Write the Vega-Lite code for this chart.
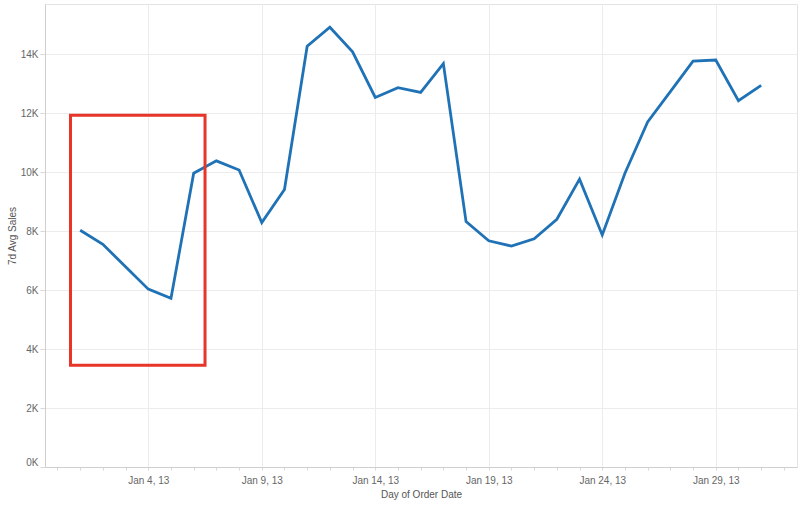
{
  "$schema": "https://vega.github.io/schema/vega-lite/v6.json",
  "width": 752,
  "height": 463,
  "autosize": "none",
  "padding": {"left": 45, "top": 4, "right": 3, "bottom": 39},
  "background": "white",
  "config": {
    "font": "Liberation Sans",
    "view": {"stroke": "#e3e3e3", "strokeWidth": 1},
    "axis": {
      "labelFont": "Liberation Sans",
      "labelFontSize": 10,
      "labelColor": "#666666",
      "titleFont": "Liberation Sans",
      "titleFontSize": 10,
      "titleFontWeight": "normal",
      "titleColor": "#555555",
      "domainColor": "#cfcfcf",
      "tickColor": "#d9d9d9",
      "gridColor": "#ececec",
      "gridWidth": 1
    }
  },
  "datasets": {
    "sales": [
      {"date": "2013-01-01", "avg_sales": 8030},
      {"date": "2013-01-02", "avg_sales": 7550},
      {"date": "2013-01-03", "avg_sales": 6790},
      {"date": "2013-01-04", "avg_sales": 6030},
      {"date": "2013-01-05", "avg_sales": 5720},
      {"date": "2013-01-06", "avg_sales": 9960},
      {"date": "2013-01-07", "avg_sales": 10380},
      {"date": "2013-01-08", "avg_sales": 10070},
      {"date": "2013-01-09", "avg_sales": 8290},
      {"date": "2013-01-10", "avg_sales": 9410},
      {"date": "2013-01-11", "avg_sales": 14270},
      {"date": "2013-01-12", "avg_sales": 14910},
      {"date": "2013-01-13", "avg_sales": 14080},
      {"date": "2013-01-14", "avg_sales": 12530},
      {"date": "2013-01-15", "avg_sales": 12860},
      {"date": "2013-01-16", "avg_sales": 12700},
      {"date": "2013-01-17", "avg_sales": 13680},
      {"date": "2013-01-18", "avg_sales": 8320},
      {"date": "2013-01-19", "avg_sales": 7670},
      {"date": "2013-01-20", "avg_sales": 7490},
      {"date": "2013-01-21", "avg_sales": 7740},
      {"date": "2013-01-22", "avg_sales": 8400},
      {"date": "2013-01-23", "avg_sales": 9760},
      {"date": "2013-01-24", "avg_sales": 7870},
      {"date": "2013-01-25", "avg_sales": 9960},
      {"date": "2013-01-26", "avg_sales": 11700},
      {"date": "2013-01-27", "avg_sales": 12730},
      {"date": "2013-01-28", "avg_sales": 13760},
      {"date": "2013-01-29", "avg_sales": 13800},
      {"date": "2013-01-30", "avg_sales": 12420},
      {"date": "2013-01-31", "avg_sales": 12940}
    ],
    "highlight": [
      {"start": "2012-12-31T13:45:00Z", "end": "2013-01-06T12:00:00Z", "low": 3450, "high": 11930}
    ]
  },
  "layer": [
    {
      "data": {"name": "sales"},
      "mark": {"type": "line", "color": "#1f72b5", "strokeWidth": 2.8, "strokeJoin": "miter"},
      "encoding": {
        "x": {
          "field": "date",
          "type": "temporal",
          "title": "Day of Order Date",
          "scale": {
            "type": "utc",
            "domain": [
              {"year": 2012, "month": 12, "date": 30, "hours": 10, "minutes": 48, "utc": true},
              {"year": 2013, "month": 2, "date": 1, "hours": 13, "minutes": 55, "utc": true}
            ]
          },
          "axis": {
            "tickCount": {"interval": "day", "step": 1},
            "labelExpr": "utcdate(datum.value) % 5 == 4 ? utcFormat(datum.value, '%b %-d, %y') : ''",
            "labelOverlap": false,
            "labelFlush": false,
            "labelAngle": 0,
            "tickSize": 3,
            "labelPadding": 5,
            "titlePadding": 4,
            "grid": true,
            "gridOpacity": {"condition": {"test": "utcdate(datum.value) % 5 == 4", "value": 1}, "value": 0}
          }
        },
        "y": {
          "field": "avg_sales",
          "type": "quantitative",
          "title": "7d Avg Sales",
          "scale": {"domain": [0, 15700], "nice": false},
          "axis": {
            "values": [0, 2000, 4000, 6000, 8000, 10000, 12000, 14000],
            "labelExpr": "datum.value / 1000 + 'K'",
            "tickSize": 5,
            "labelPadding": 2,
            "titlePadding": 3,
            "grid": true,
            "labelBaseline": {"condition": {"test": "datum.value == 0", "value": "bottom"}, "value": "middle"}
          }
        }
      }
    },
    {
      "data": {"name": "highlight"},
      "mark": {"type": "rect", "fill": "transparent", "stroke": "#e8352a", "strokeWidth": 3},
      "encoding": {
        "x": {"field": "start", "type": "temporal"},
        "x2": {"field": "end"},
        "y": {"field": "low", "type": "quantitative"},
        "y2": {"field": "high"}
      }
    }
  ]
}
